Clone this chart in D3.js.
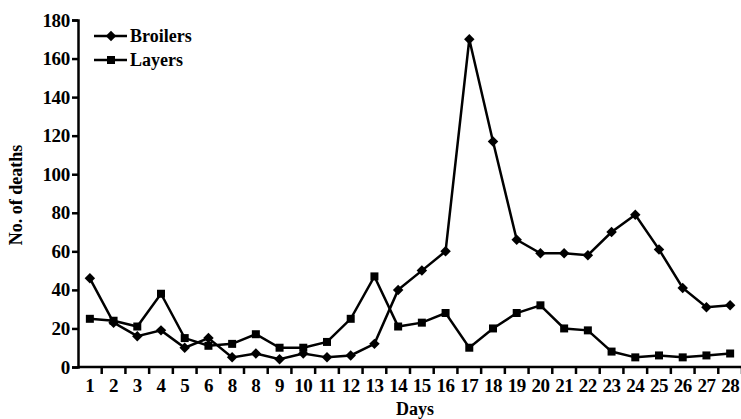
<!DOCTYPE html>
<html>
<head>
<meta charset="utf-8">
<script src="https://cdn.jsdelivr.net/npm/d3@7"></script>
<style>
	body { margin: 0; background: #fff; }
</style>
</head>
<body>
<div id="chart"></div>
<script>
// tick labels as printed (the original repeats "8")
const dayLabels = ['1', '2', '3', '4', '5', '6', '8', '8', '9', '10', '11', '12', '13', '14',
	'15', '16', '17', '18', '19', '20', '21', '22', '23', '24', '25', '26', '27', '28']
const broilers = [46, 23, 16, 19, 10, 15, 5, 7, 4, 7, 5, 6, 12, 40,
	50, 60, 170, 117, 66, 59, 59, 58, 70, 79, 61, 41, 31, 32]
const layers = [25, 24, 21, 38, 15, 11, 12, 17, 10, 10, 13, 25, 47, 21,
	23, 28, 10, 20, 28, 32, 20, 19, 8, 5, 6, 5, 6, 7]
const yTicks = [0, 20, 40, 60, 80, 100, 120, 140, 160, 180]

const font = "'Times New Roman', 'Liberation Serif', Times, serif"

const width = 741,
	height = 419,
	margin = { top: 20, right: -1, bottom: 52, left: 78 }

const svg = d3
	.select('#chart')
	.append('svg')
	.attr('width', width)
	.attr('height', height)
	.attr('font-family', font)
	.attr('font-weight', 'bold')

const x = d3
	.scaleBand()
	.domain(d3.range(dayLabels.length))
	.range([margin.left, width - margin.right])

const y = d3
	.scaleLinear()
	.domain([0, 180])
	.range([height - margin.bottom, margin.top])

// y axis
const yAxis = svg
	.append('g')
	.attr('transform', `translate(${margin.left},0)`)
	.call(d3.axisLeft(y).tickValues(yTicks).tickSize(6).tickPadding(2))
yAxis.attr('font-family', null).attr('font-size', null)
yAxis.select('.domain').attr('stroke-width', 2.5)
yAxis.selectAll('.tick line').attr('stroke-width', 2.5)
yAxis.selectAll('text').attr('font-size', 19).attr('letter-spacing', -0.3)

// x axis, ticks on band edges
const xAxis = svg
	.append('g')
	.attr('transform', `translate(0,${height - margin.bottom})`)
xAxis
	.append('line')
	.attr('x1', margin.left)
	.attr('x2', width)
	.attr('stroke', '#000')
	.attr('stroke-width', 2.5)
xAxis
	.selectAll('.tk')
	.data(d3.range(dayLabels.length))
	.enter()
	.append('line')
	.attr('x1', i => x(i) + x.bandwidth())
	.attr('x2', i => x(i) + x.bandwidth())
	.attr('y1', 0)
	.attr('y2', 7)
	.attr('stroke', '#000')
	.attr('stroke-width', 2.5)
xAxis
	.selectAll('.lbl')
	.data(dayLabels)
	.enter()
	.append('text')
	.attr('x', (d, i) => x(i) + x.bandwidth() / 2)
	.attr('y', 25)
	.attr('text-anchor', 'middle')
	.attr('font-size', 19)
	.attr('letter-spacing', -0.5)
	.text(d => d)

svg.append('text')
	.attr('x', 415)
	.attr('y', 415)
	.attr('text-anchor', 'middle')
	.attr('font-size', 18)
	.text('Days')

svg.append('text')
	.attr('transform', 'translate(22,195) rotate(-90)')
	.attr('text-anchor', 'middle')
	.attr('font-size', 18)
	.text('No. of deaths')

const line = d3
	.line()
	.x((d, i) => x(i) + x.bandwidth() / 2)
	.y(d => y(d))

const diamond = d3.symbol().type(d3.symbolDiamond2).size(70)
const square = d3.symbol().type(d3.symbolSquare).size(64)

function drawSeries(values, sym) {
	svg.append('path')
		.datum(values)
		.attr('d', line)
		.attr('fill', 'none')
		.attr('stroke', '#000')
		.attr('stroke-width', 2.5)
	svg.append('g')
		.selectAll('path')
		.data(values)
		.enter()
		.append('path')
		.attr('d', sym)
		.attr('transform', (d, i) => `translate(${x(i) + x.bandwidth() / 2},${y(d)})`)
		.attr('fill', '#000')
}

drawSeries(layers, square)
drawSeries(broilers, diamond)

// legend
const legend = [
	{ name: 'Broilers', sym: diamond, y: 36 },
	{ name: 'Layers', sym: square, y: 60 }
]
const lg = svg.append('g')
lg.selectAll('line')
	.data(legend)
	.enter()
	.append('line')
	.attr('x1', 94)
	.attr('x2', 127)
	.attr('y1', d => d.y)
	.attr('y2', d => d.y)
	.attr('stroke', '#000')
	.attr('stroke-width', 2.5)
lg.selectAll('path')
	.data(legend)
	.enter()
	.append('path')
	.attr('d', d => d.sym())
	.attr('transform', d => `translate(111,${d.y})`)
	.attr('fill', '#000')
lg.selectAll('text')
	.data(legend)
	.enter()
	.append('text')
	.attr('x', 130)
	.attr('y', d => d.y + 6)
	.attr('font-size', 18)
	.text(d => d.name)
</script>
</body>
</html>
